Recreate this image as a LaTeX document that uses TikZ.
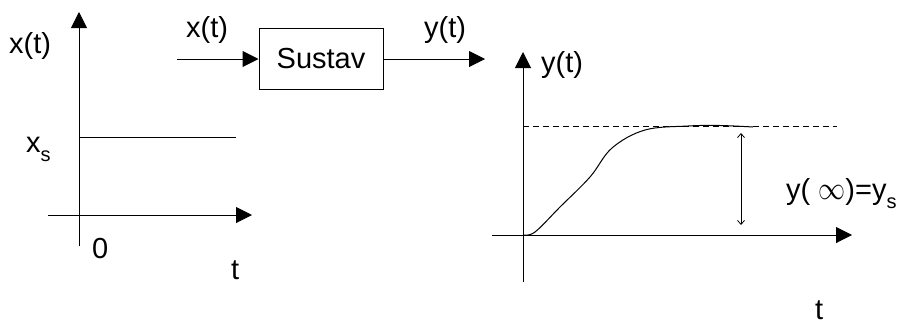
\documentclass[tikz,border=0pt]{standalone}
\usepackage{fontspec}
\usepackage{graphicx}
\setmainfont{Liberation Sans}
\usetikzlibrary{arrows.meta}
\begin{document}
\begin{tikzpicture}[x=1pt,y=-1pt,
  every node/.style={font=\fontsize{29}{35}\selectfont},
  lbl/.style={anchor=base west,inner sep=0pt},
  axis/.style={line width=1pt,-{Triangle[length=16pt,width=16pt]}},
  thin line/.style={line width=1pt},
  sysbox/.style={draw,line width=1pt,minimum width=124pt,minimum height=61pt,inner sep=0pt},
  dimarrow/.style={line width=0.8pt,{Straight Barb[length=4pt,width=7pt]}-{Straight Barb[length=4pt,width=7pt]}}
]
\useasboundingbox (0,0) rectangle (901,325);
\newcommand{\subs}[1]{\raisebox{-9pt}{\fontsize{20}{24}\selectfont #1}}

% left graph
\coordinate (lvb) at (79,246);
\coordinate (lvt) at (79,12);
\coordinate (lhl) at (48,215);
\coordinate (lhr) at (252,215);
\coordinate (ls1) at (79,137);
\coordinate (ls2) at (236,137);
\draw[axis] (lvb) -- (lvt);
\draw[axis] (lhl) -- (lhr);
\draw[thin line] (ls1) -- (ls2);
\node[lbl] (lx) at (9,53) {x(t)};
\node[lbl] (lxs) at (26,152) {x\subs{s}};
\node[lbl] (l0) at (92,258) {0};
\node[lbl] (lt) at (231,279) {t};

% system block
\node[sysbox] (sys) at (321,58.5) {Sustav};
\coordinate (in) at (177,59);
\coordinate (out) at (485,59);
\draw[axis] (in) -- (sys.west |- in);
\draw[axis] (sys.east |- out) -- (out);
\node[lbl] (mx) at (186,37) {x(t)};
\node[lbl] (my) at (424,37) {y(t)};

% right graph
\coordinate (rvb) at (523,282);
\coordinate (rvt) at (523,52);
\coordinate (rhl) at (492,235);
\coordinate (rhr) at (852,235);
\coordinate (rd1) at (523,126);
\coordinate (rd2) at (837,126);
\draw[axis] (rvb) -- (rvt);
\draw[axis] (rhl) -- (rhr);
\draw[thin line,dash pattern=on 6pt off 4pt] (rd1) -- (rd2);
\draw[thin line] plot[smooth,tension=0.6] coordinates {(523,235) (535,232) (560,207) (590,177) (612,148) (645,130) (688,126) (720,125.5) (753,127)};
\coordinate (da1) at (741,133);
\coordinate (da2) at (741,225);
\draw[dimarrow] (da1) -- (da2);
\node[lbl] (ry) at (541,72) {y(t)};
\node[lbl] (rinf) at (786,199) {y( \resizebox{27pt}{14pt}{$\infty$})=y\subs{s}};
\node[lbl] (rt) at (815,319) {t};
\end{tikzpicture}
\end{document}
